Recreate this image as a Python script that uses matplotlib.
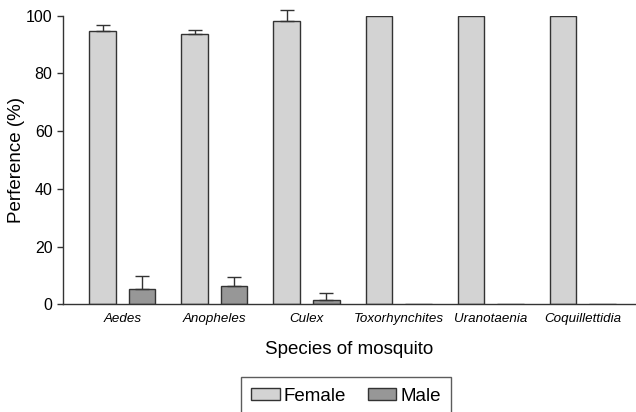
import numpy as np
import matplotlib
matplotlib.use("Agg")
import matplotlib.pyplot as plt

plt.rcParams['font.family'] = ['Liberation Sans', 'DejaVu Sans']

species = ["Aedes", "Anopheles", "Culex", "Toxorhynchites", "Uranotaenia", "Coquillettidia"]
female = [94.7, 93.8, 98.2, 100, 100, 100]
female_err = [2.1, 1.1, 3.9, 0, 0, 0]
male = [5.3, 6.4, 1.6, 0, 0, 0]
male_err = [4.6, 3.1, 2.2, 0, 0, 0]

edge = "#333333"
fig = plt.figure(figsize=(6.36, 4.12), dpi=100)
ax = fig.add_axes([0.0986, 0.2614, 0.9014, 0.7006])

x = np.arange(len(species))
off = 0.214
w = 0.29

ax.bar(x - off, female, w, color="#d3d3d3", edgecolor=edge, linewidth=1.0, label="Female", zorder=2)
ax.bar(x + off, male, w, color="#979797", edgecolor=edge, linewidth=1.0, label="Male", zorder=2)

for xs, vals, errs in [(x - off, female, female_err), (x + off, male, male_err)]:
    for xi, v, e in zip(xs, vals, errs):
        if e > 0:
            ax.errorbar(xi, v, yerr=[[0], [e]], fmt="none", ecolor=edge, elinewidth=1.0,
                        capsize=5, capthick=1.0, clip_on=False, zorder=3)

ax.set_xlim(-0.647, 5.578)
ax.set_ylim(0, 100)
ax.set_yticks([0, 20, 40, 60, 80, 100])
ax.set_xticks(x)
ax.set_xticklabels(species, fontstyle="italic", fontsize=9.6)
ax.tick_params(axis="x", length=0, pad=6)
ax.tick_params(axis="y", length=4.3, width=1.0, color=edge, labelsize=11.5, pad=3)

for s in ["top", "right"]:
    ax.spines[s].set_visible(False)
for s in ["left", "bottom"]:
    ax.spines[s].set_color(edge)
    ax.spines[s].set_linewidth(1.0)

ax.set_ylabel("Perference (%)", fontsize=13.5, labelpad=1)
ax.set_xlabel("Species of mosquito", fontsize=13.5, labelpad=12)

leg = fig.legend(loc="upper center", bbox_to_anchor=(346 / 636, 1 - 377.3 / 412), ncol=2,
                 fontsize=13.5, frameon=True, fancybox=False, edgecolor=edge,
                 handlelength=1.5, handleheight=0.6, handletextpad=0.2,
                 columnspacing=1.2, borderpad=0.55, borderaxespad=0)
leg.get_frame().set_linewidth(1.0)

fig.savefig("out.png", dpi=100)
